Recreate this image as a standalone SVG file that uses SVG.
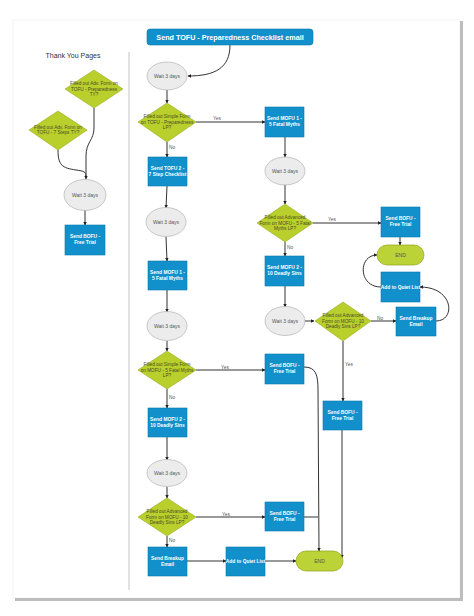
<svg xmlns="http://www.w3.org/2000/svg" width="474" height="616" viewBox="0 0 474 616">
<style>
.box{fill:#1190cb;stroke:#0b78ad;stroke-width:0.6}
.dia{fill:#b9cf2c;stroke:#98ad1c;stroke-width:0.6}
.ell{fill:#ececec;stroke:#a8a8a8;stroke-width:0.6}
.end{fill:#bcd337;stroke:#8fa51a;stroke-width:0.7}
.bt{font-family:"Liberation Sans",Arial,sans-serif;font-size:4.9px;font-weight:bold;fill:#ffffff;text-anchor:middle}
.dt{font-family:"Liberation Sans",Arial,sans-serif;font-size:4.7px;fill:#4a4a2a;text-anchor:middle}
.et{font-family:"Liberation Sans",Arial,sans-serif;font-size:5px;fill:#555;text-anchor:middle}
.lb{font-family:"Liberation Sans",Arial,sans-serif;font-size:4.8px;fill:#555}
.cn{fill:none;stroke:#333;stroke-width:1}
</style>
<defs>
<marker id="ah" viewBox="0 0 10 10" refX="9" refY="5" markerWidth="3.6" markerHeight="3.6" orient="auto"><path d="M0,0 L10,5 L0,10 z" fill="#222"/></marker>
</defs>
<rect x="0" y="0" width="474" height="616" fill="#ffffff"/>
<g id="page">
<rect x="13" y="20" width="447" height="578" fill="#ffffff" stroke="#f0f0f0" stroke-width="0.8"/>
<rect x="460" y="21" width="3" height="580" fill="#bdbdbd"/>
<rect x="15" y="598" width="448" height="3" fill="#bdbdbd"/>
<line x1="129" y1="52" x2="129" y2="590" stroke="#c4c4c4" stroke-width="1"/>
<text x="73" y="58" font-family="'Liberation Sans',Arial,sans-serif" font-size="7" fill="#333333" text-anchor="middle">Thank You Pages</text>
</g>
<g id="connectors">
<path class="cn" d="M230,45 C230,68 215,76 188,76" marker-end="url(#ah)"/>
<path class="cn" d="M167,90 L167,103" marker-end="url(#ah)"/>
<path class="cn" d="M196,122 L265,122" marker-end="url(#ah)"/>
<path class="cn" d="M167,142 L167,157" marker-end="url(#ah)"/>
<path class="cn" d="M285,137 L285,157" marker-end="url(#ah)"/>
<path class="cn" d="M285,185 L285,204" marker-end="url(#ah)"/>
<path class="cn" d="M167,186 L166,208" marker-end="url(#ah)"/>
<path class="cn" d="M166,237 L167,261" marker-end="url(#ah)"/>
<path class="cn" d="M167,290 L167,312" marker-end="url(#ah)"/>
<path class="cn" d="M167,341 L167,351" marker-end="url(#ah)"/>
<path class="cn" d="M196,370 L265,370" marker-end="url(#ah)"/>
<path class="cn" d="M167,389 L167,408" marker-end="url(#ah)"/>
<path class="cn" d="M167,437 L167,460" marker-end="url(#ah)"/>
<path class="cn" d="M167,487 L167,498" marker-end="url(#ah)"/>
<path class="cn" d="M196,517 L265,517" marker-end="url(#ah)"/>
<path class="cn" d="M167,536 L167,547" marker-end="url(#ah)"/>
<path class="cn" d="M187,561 L226,561" marker-end="url(#ah)"/>
<path class="cn" d="M265,561 L296,561" marker-end="url(#ah)"/>
<path class="cn" d="M304,367 C316,367 318,375 318,390 L319,551" marker-end="url(#ah)"/>
<path class="cn" d="M304,517 L318,517"/>
<path class="cn" d="M285,242 L285,256" marker-end="url(#ah)"/>
<path class="cn" d="M313,223 L381,223" marker-end="url(#ah)"/>
<path class="cn" d="M285,286 L285,307" marker-end="url(#ah)"/>
<path class="cn" d="M304,321 L314,321" marker-end="url(#ah)"/>
<path class="cn" d="M371,321 L396,321" marker-end="url(#ah)"/>
<path class="cn" d="M343,341 L343,401" marker-end="url(#ah)"/>
<path class="cn" d="M342,430 L342,558" marker-end="url(#ah)"/>
<path class="cn" d="M400,237 L400,245" marker-end="url(#ah)"/>
<path class="cn" d="M436,321 C456,321 454,287 420,287" marker-end="url(#ah)"/>
<path class="cn" d="M381,287 C358,287 358,255 377,255" marker-end="url(#ah)"/>
<path class="cn" d="M94,108 L94,128 C94,140 86,142 86,156 L86,179" marker-end="url(#ah)"/>
<path class="cn" d="M58,150 C58,165 62,168 76,170 C84,171 86,172 86,176"/>
<path class="cn" d="M85,210 L85,225" marker-end="url(#ah)"/>
<text class="lb" x="213" y="120">Yes</text>
<text class="lb" x="169" y="149">No</text>
<text class="lb" x="287" y="249">No</text>
<text class="lb" x="328" y="221">Yes</text>
<text class="lb" x="377" y="320">No</text>
<text class="lb" x="345" y="366">Yes</text>
<text class="lb" x="221" y="369">Yes</text>
<text class="lb" x="169" y="399">No</text>
<text class="lb" x="222" y="516">Yes</text>
<text class="lb" x="169" y="542">No</text>
</g>
<g id="title">
<rect x="147" y="29" width="166" height="16" rx="3" fill="#1190cb" stroke="#0b78ad" stroke-width="0.6"/>
<text x="230" y="39.5" font-family="'Liberation Sans',Arial,sans-serif" font-size="7.2" font-weight="bold" fill="#fff" text-anchor="middle">Send TOFU - Preparedness Checklist email</text>
</g>
<g id="wait1"><ellipse class="ell" cx="167" cy="76" rx="20" ry="14"/><text class="et" x="167" y="78">Wait 3 days</text></g>
<g id="dec1"><polygon class="dia" points="167,103 196,122 167,142 138,122"/><text class="dt" x="167" y="118">Filled out Simple Form</text><text class="dt" x="167" y="123.5">on TOFU - Preparedness</text><text class="dt" x="167" y="129">LP?</text></g>
<g id="mofu1a"><rect class="box" x="265" y="107" width="39" height="30"/><text class="bt" x="284.5" y="120">Send MOFU 1 -</text><text class="bt" x="284.5" y="126">5 Fatal Myths</text></g>
<g id="tofu2"><rect class="box" x="148" y="157" width="39" height="29"/><text class="bt" x="167.5" y="170">Send TOFU 2 -</text><text class="bt" x="167.5" y="176">7 Step Checklist</text></g>
<g id="wait2"><ellipse class="ell" cx="285" cy="171" rx="20" ry="14"/><text class="et" x="285" y="173">Wait 3 days</text></g>
<g id="wait3"><ellipse class="ell" cx="166" cy="222" rx="20" ry="14.5"/><text class="et" x="166" y="224">Wait 3 days</text></g>
<g id="dec2"><polygon class="dia" points="285,204 313,223 285,242 257,223"/><text class="dt" x="285" y="219">Filled out Advanced</text><text class="dt" x="285" y="224.5">Form on MOFU - 5 Fatal</text><text class="dt" x="285" y="230">Myths LP?</text></g>
<g id="bofu1"><rect class="box" x="381" y="207" width="39" height="30"/><text class="bt" x="400.5" y="220">Send BOFU -</text><text class="bt" x="400.5" y="226">Free Trial</text></g>
<g id="end1"><rect class="end" x="377" y="245" width="47" height="20" rx="10"/><text class="et" x="400.5" y="257">END</text></g>
<g id="mofu2a"><rect class="box" x="265" y="256" width="39" height="30"/><text class="bt" x="284.5" y="269">Send MOFU 2 -</text><text class="bt" x="284.5" y="275">10 Deadly Sins</text></g>
<g id="mofu1b"><rect class="box" x="148" y="261" width="39" height="29"/><text class="bt" x="167.5" y="274">Send MOFU 1 -</text><text class="bt" x="167.5" y="280">5 Fatal Myths</text></g>
<g id="quiet1"><rect class="box" x="381" y="272" width="39" height="30"/><text class="bt" x="400.5" y="289">Add to Quiet List</text></g>
<g id="wait4"><ellipse class="ell" cx="285" cy="321" rx="20" ry="14.5"/><text class="et" x="285" y="323">Wait 3 days</text></g>
<g id="dec3"><polygon class="dia" points="343,302 371,321 343,341 315,321"/><text class="dt" x="343" y="317">Filled out Advanced</text><text class="dt" x="343" y="322.5">Form on MOFU - 10</text><text class="dt" x="343" y="328">Deadly Sins LP?</text></g>
<g id="breakup1"><rect class="box" x="396" y="307" width="40" height="29"/><text class="bt" x="416" y="320">Send Breakup</text><text class="bt" x="416" y="326">Email</text></g>
<g id="wait5"><ellipse class="ell" cx="167" cy="326" rx="20" ry="14.5"/><text class="et" x="167" y="328">Wait 3 days</text></g>
<g id="dec4"><polygon class="dia" points="167,351 196,370 167,389 138,370"/><text class="dt" x="167" y="366">Filled out Simple Form</text><text class="dt" x="167" y="371.5">on MOFU - 5 Fatal Myths</text><text class="dt" x="167" y="377">LP?</text></g>
<g id="bofu2"><rect class="box" x="265" y="354" width="39" height="30"/><text class="bt" x="284.5" y="367">Send BOFU -</text><text class="bt" x="284.5" y="373">Free Trial</text></g>
<g id="bofu3"><rect class="box" x="323" y="401" width="39" height="29"/><text class="bt" x="342.5" y="414">Send BOFU -</text><text class="bt" x="342.5" y="420">Free Trial</text></g>
<g id="mofu2b"><rect class="box" x="148" y="408" width="39" height="29"/><text class="bt" x="167.5" y="421">Send MOFU 2 -</text><text class="bt" x="167.5" y="427">10 Deadly Sins</text></g>
<g id="wait6"><ellipse class="ell" cx="167" cy="473" rx="20" ry="13.5"/><text class="et" x="167" y="475">Wait 3 days</text></g>
<g id="dec5"><polygon class="dia" points="167,498 196,517 167,536 138,517"/><text class="dt" x="167" y="513">Filled out Advanced</text><text class="dt" x="167" y="518.5">Form on MOFU - 10</text><text class="dt" x="167" y="524">Deadly Sins LP?</text></g>
<g id="bofu4"><rect class="box" x="265" y="502" width="39" height="29"/><text class="bt" x="284.5" y="515">Send BOFU -</text><text class="bt" x="284.5" y="521">Free Trial</text></g>
<g id="breakup2"><rect class="box" x="148" y="547" width="39" height="29"/><text class="bt" x="167.5" y="560">Send Breakup</text><text class="bt" x="167.5" y="566">Email</text></g>
<g id="quiet2"><rect class="box" x="226" y="547" width="39" height="29"/><text class="bt" x="245.5" y="563">Add to Quiet List</text></g>
<g id="end2"><rect class="end" x="296" y="551" width="47" height="20" rx="10"/><text class="et" x="319.5" y="563">END</text></g>
<g id="ty1"><polygon class="dia" points="94,70 123,89 94,108 65,89"/><text class="dt" x="94" y="85">Filled out Adv. Form on</text><text class="dt" x="94" y="90.5">TOFU - Preparedness</text><text class="dt" x="94" y="96">TY?</text></g>
<g id="ty2"><polygon class="dia" points="58,111 87,130 58,150 29,130"/><text class="dt" x="58" y="128.5">Filled out Adv. Form on</text><text class="dt" x="58" y="134">TOFU - 7 Steps TY?</text></g>
<g id="waitty"><ellipse class="ell" cx="85" cy="195" rx="21" ry="15.5"/><text class="et" x="85" y="197">Wait 3 days</text></g>
<g id="bofuty"><rect class="box" x="65" y="225" width="40" height="30"/><text class="bt" x="85" y="238">Send BOFU -</text><text class="bt" x="85" y="244">Free Trial</text></g>
</svg>
